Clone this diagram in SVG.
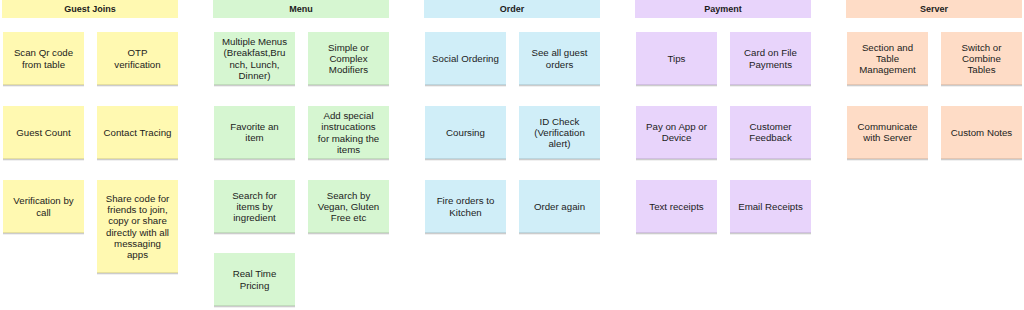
<svg xmlns="http://www.w3.org/2000/svg" width="1024" height="310" viewBox="0 0 1024 310">
<style>
text{font-family:"Liberation Sans",Arial,sans-serif;font-size:9.7px;fill:#1c1c1c;text-anchor:middle}
.h{font-weight:bold;font-size:9px}
.y{fill:#fff9b1}.g{fill:#d6f6d1}.b{fill:#d0eef8}.p{fill:#e8d4fb}.o{fill:#fedcc6}
.sh{fill:#000;opacity:.2}.sh2{fill:#000;opacity:.06}
</style>
<defs>
<g id="shadow"><rect x="0" y="0" width="81" height="1.5" class="sh"/><rect x="0" y="1.5" width="81" height="1" class="sh2"/></g>
</defs>
<rect width="1024" height="310" fill="#fff"/>
<g id="guest-joins">
<g id="h-guest"><rect x="2" y="0" width="176" height="18" class="y"/><text class="h" x="90" y="12.2">Guest Joins</text></g>
<g id="n-scan"><rect x="3" y="32" width="81" height="53" class="y"/><use href="#shadow" x="3" y="84.5"/><text x="43.5" y="56.3">Scan Qr code</text><text x="43.5" y="67.5">from table</text></g>
<g id="n-otp"><rect x="97" y="32" width="81" height="53" class="y"/><use href="#shadow" x="97" y="84.5"/><text x="137.5" y="56.3">OTP</text><text x="137.5" y="67.5">verification</text></g>
<g id="n-count"><rect x="3" y="106" width="81" height="53" class="y"/><use href="#shadow" x="3" y="158.5"/><text x="43.5" y="135.9">Guest Count</text></g>
<g id="n-tracing"><rect x="97" y="106" width="81" height="53" class="y"/><use href="#shadow" x="97" y="158.5"/><text x="137.5" y="135.9">Contact Tracing</text></g>
<g id="n-call"><rect x="3" y="180" width="81" height="53" class="y"/><use href="#shadow" x="3" y="232.5"/><text x="43.5" y="204.3">Verification by</text><text x="43.5" y="215.5">call</text></g>
<g id="n-share"><rect x="97" y="180" width="81" height="93" class="y"/><use href="#shadow" x="97" y="272.5"/><text x="137.5" y="201.9">Share code for</text><text x="137.5" y="213.1">friends to join,</text><text x="137.5" y="224.3">copy or share</text><text x="137.5" y="235.5">directly with all</text><text x="137.5" y="246.7">messaging</text><text x="137.5" y="257.9">apps</text></g>
</g>
<g id="menu">
<g id="h-menu"><rect x="213" y="0" width="176" height="18" class="g"/><text class="h" x="301" y="12.2">Menu</text></g>
<g id="n-menus"><rect x="214" y="32" width="81" height="53" class="g"/><use href="#shadow" x="214" y="84.5"/><text x="254.5" y="45.1">Multiple Menus</text><text x="254.5" y="56.3">(Breakfast,Bru</text><text x="254.5" y="67.5">nch, Lunch,</text><text x="254.5" y="78.7">Dinner)</text></g>
<g id="n-modifiers"><rect x="308" y="32" width="81" height="53" class="g"/><use href="#shadow" x="308" y="84.5"/><text x="348.5" y="50.7">Simple or</text><text x="348.5" y="61.9">Complex</text><text x="348.5" y="73.1">Modifiers</text></g>
<g id="n-favorite"><rect x="214" y="106" width="81" height="53" class="g"/><use href="#shadow" x="214" y="158.5"/><text x="254.5" y="129.9">Favorite an</text><text x="254.5" y="141.1">item</text></g>
<g id="n-special"><rect x="308" y="106" width="81" height="53" class="g"/><use href="#shadow" x="308" y="158.5"/><text x="348.5" y="119.1">Add special</text><text x="348.5" y="130.3">instrucations</text><text x="348.5" y="141.5">for making the</text><text x="348.5" y="152.7">items</text></g>
<g id="n-ingredient"><rect x="214" y="180" width="81" height="53" class="g"/><use href="#shadow" x="214" y="232.5"/><text x="254.5" y="198.7">Search for</text><text x="254.5" y="209.9">items by</text><text x="254.5" y="221.1">ingredient</text></g>
<g id="n-vegan"><rect x="308" y="180" width="81" height="53" class="g"/><use href="#shadow" x="308" y="232.5"/><text x="348.5" y="198.7">Search by</text><text x="348.5" y="209.9">Vegan, Gluten</text><text x="348.5" y="221.1">Free etc</text></g>
<g id="n-pricing"><rect x="214" y="253" width="81" height="53" class="g"/><use href="#shadow" x="214" y="305.5"/><text x="254.5" y="277.3">Real Time</text><text x="254.5" y="288.5">Pricing</text></g>
</g>
<g id="order">
<g id="h-order"><rect x="424" y="0" width="176" height="18" class="b"/><text class="h" x="512" y="12.2">Order</text></g>
<g id="n-social"><rect x="425" y="32" width="81" height="53" class="b"/><use href="#shadow" x="425" y="84.5"/><text x="465.5" y="61.9">Social Ordering</text></g>
<g id="n-guestorders"><rect x="519" y="32" width="81" height="53" class="b"/><use href="#shadow" x="519" y="84.5"/><text x="559.5" y="56.3">See all guest</text><text x="559.5" y="67.5">orders</text></g>
<g id="n-coursing"><rect x="425" y="106" width="81" height="53" class="b"/><use href="#shadow" x="425" y="158.5"/><text x="465.5" y="135.9">Coursing</text></g>
<g id="n-idcheck"><rect x="519" y="106" width="81" height="53" class="b"/><use href="#shadow" x="519" y="158.5"/><text x="559.5" y="124.7">ID Check</text><text x="559.5" y="135.9">(Verification</text><text x="559.5" y="147.1">alert)</text></g>
<g id="n-fire"><rect x="425" y="180" width="81" height="53" class="b"/><use href="#shadow" x="425" y="232.5"/><text x="465.5" y="204.3">Fire orders to</text><text x="465.5" y="215.5">Kitchen</text></g>
<g id="n-again"><rect x="519" y="180" width="81" height="53" class="b"/><use href="#shadow" x="519" y="232.5"/><text x="559.5" y="209.9">Order again</text></g>
</g>
<g id="payment">
<g id="h-payment"><rect x="635" y="0" width="176" height="18" class="p"/><text class="h" x="723" y="12.2">Payment</text></g>
<g id="n-tips"><rect x="636" y="32" width="81" height="53" class="p"/><use href="#shadow" x="636" y="84.5"/><text x="676.5" y="61.9">Tips</text></g>
<g id="n-card"><rect x="730" y="32" width="81" height="53" class="p"/><use href="#shadow" x="730" y="84.5"/><text x="770.5" y="56.3">Card on File</text><text x="770.5" y="67.5">Payments</text></g>
<g id="n-payapp"><rect x="636" y="106" width="81" height="53" class="p"/><use href="#shadow" x="636" y="158.5"/><text x="676.5" y="129.9">Pay on App or</text><text x="676.5" y="141.1">Device</text></g>
<g id="n-feedback"><rect x="730" y="106" width="81" height="53" class="p"/><use href="#shadow" x="730" y="158.5"/><text x="770.5" y="129.9">Customer</text><text x="770.5" y="141.1">Feedback</text></g>
<g id="n-text"><rect x="636" y="180" width="81" height="53" class="p"/><use href="#shadow" x="636" y="232.5"/><text x="676.5" y="209.9">Text receipts</text></g>
<g id="n-email"><rect x="730" y="180" width="81" height="53" class="p"/><use href="#shadow" x="730" y="232.5"/><text x="770.5" y="209.9">Email Receipts</text></g>
</g>
<g id="server">
<g id="h-server"><rect x="846" y="0" width="176" height="18" class="o"/><text class="h" x="934" y="12.2">Server</text></g>
<g id="n-section"><rect x="847" y="32" width="81" height="53" class="o"/><use href="#shadow" x="847" y="84.5"/><text x="887.5" y="50.7">Section and</text><text x="887.5" y="61.9">Table</text><text x="887.5" y="73.1">Management</text></g>
<g id="n-switch"><rect x="941" y="32" width="81" height="53" class="o"/><use href="#shadow" x="941" y="84.5"/><text x="981.5" y="50.7">Switch or</text><text x="981.5" y="61.9">Combine</text><text x="981.5" y="73.1">Tables</text></g>
<g id="n-communicate"><rect x="847" y="106" width="81" height="53" class="o"/><use href="#shadow" x="847" y="158.5"/><text x="887.5" y="129.9">Communicate</text><text x="887.5" y="141.1">with Server</text></g>
<g id="n-notes"><rect x="941" y="106" width="81" height="53" class="o"/><use href="#shadow" x="941" y="158.5"/><text x="981.5" y="135.9">Custom Notes</text></g>
</g>
<g id="connectors"/>
</svg>
